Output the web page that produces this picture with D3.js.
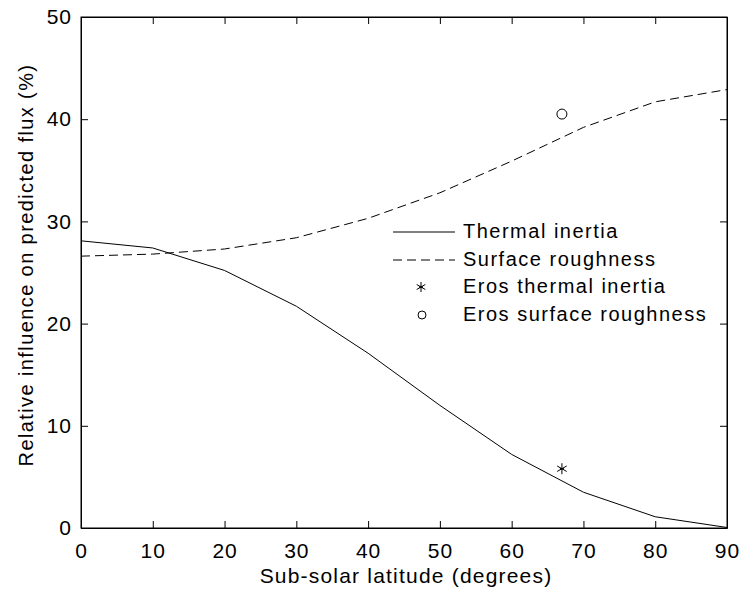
<!DOCTYPE html>
<html>
<head>
<meta charset="utf-8">
<script src="https://cdn.jsdelivr.net/npm/d3@7"></script>
<style>
  body { margin: 0; background: #fff; }
  svg { display: block; font-family: "Liberation Sans", Arial, sans-serif; }
  .domain { stroke: #000; }
</style>
</head>
<body>
<svg width="743" height="592"></svg>
<script>
// Data
const latitude = [0, 10, 20, 30, 40, 50, 60, 70, 80, 90];
const thermalInertia = [28.1, 27.4, 25.2, 21.7, 17.1, 12.0, 7.2, 3.5, 1.1, 0.05];
const surfaceRoughness = [26.6, 26.8, 27.3, 28.4, 30.3, 32.8, 35.9, 39.2, 41.7, 42.9];
const erosThermal = [{ x: 67, y: 5.8 }];
const erosRoughness = [{ x: 67, y: 40.5 }];
const xTicks = [0, 10, 20, 30, 40, 50, 60, 70, 80, 90];
const yTicks = [0, 10, 20, 30, 40, 50];
const legendLabels = ['Thermal inertia', 'Surface roughness', 'Eros thermal inertia', 'Eros surface roughness'];

const svg = d3.select('svg');
const plotLeft = 81, plotRight = 727, plotTop = 17, plotBottom = 528;

const x = d3.scaleLinear().domain([0, 90]).range([plotLeft, plotRight]);
const y = d3.scaleLinear().domain([0, 50]).range([plotBottom, plotTop]);

// Box around the axes
svg.append('rect')
    .attr('x', plotLeft).attr('y', plotTop)
    .attr('width', plotRight - plotLeft).attr('height', plotBottom - plotTop)
    .attr('fill', 'none').attr('stroke', '#000').attr('stroke-width', 1);

// Axes with inward ticks
const xAxis = svg.append('g').attr('transform', `translate(0,${plotBottom})`)
    .call(d3.axisBottom(x).tickValues(xTicks).tickSizeInner(-7).tickSizeOuter(0).tickPadding(11));
const yAxis = svg.append('g').attr('transform', `translate(${plotLeft},0)`)
    .call(d3.axisLeft(y).tickValues(yTicks).tickSizeInner(-7).tickSizeOuter(0).tickPadding(9));
// top and right ticks (no labels)
svg.append('g').attr('transform', `translate(0,${plotTop})`)
    .call(d3.axisTop(x).tickValues(xTicks).tickSizeInner(-7).tickSizeOuter(0).tickFormat(''));
svg.append('g').attr('transform', `translate(${plotRight},0)`)
    .call(d3.axisRight(y).tickValues(yTicks).tickSizeInner(-7).tickSizeOuter(0).tickFormat(''));

svg.selectAll('.tick line').attr('stroke', '#000');
svg.selectAll('.tick text')
    .attr('font-size', 21)
    .attr('letter-spacing', 1)
    .attr('font-family', '"Liberation Sans", Arial, sans-serif')
    .attr('fill', '#000');
xAxis.selectAll('.tick text').attr('dy', '0.9em');

// Axis titles
svg.append('text')
    .attr('x', (plotLeft + plotRight) / 2 + 2).attr('y', 583)
    .attr('text-anchor', 'middle')
    .attr('font-size', 21)
    .attr('letter-spacing', 1.2)
    .text('Sub-solar latitude (degrees)');
svg.append('text')
    .attr('transform', 'translate(33,265) rotate(-90)')
    .attr('text-anchor', 'middle')
    .attr('font-size', 20)
    .attr('letter-spacing', 1.4)
    .text('Relative influence on predicted flux (%)');

// Lines
const line = d3.line().x(d => x(d[0])).y(d => y(d[1]));
svg.append('path')
    .datum(latitude.map((l, i) => [l, thermalInertia[i]]))
    .attr('d', line)
    .attr('fill', 'none').attr('stroke', '#000').attr('stroke-width', 1);
svg.append('path')
    .datum(latitude.map((l, i) => [l, surfaceRoughness[i]]))
    .attr('d', line)
    .attr('fill', 'none').attr('stroke', '#000').attr('stroke-width', 1)
    .attr('stroke-dasharray', '9,5');

// Markers (matlab-style asterisk: vertical + two diagonals + centre dot)
function drawStar(g, cx, cy, r) {
    [0, 60, 120].forEach(a => {
        const rad = a * Math.PI / 180;
        g.append('line')
            .attr('x1', cx - r * Math.sin(rad)).attr('y1', cy - r * Math.cos(rad))
            .attr('x2', cx + r * Math.sin(rad)).attr('y2', cy + r * Math.cos(rad))
            .attr('stroke', '#000').attr('stroke-width', 1);
    });
    g.append('line')
        .attr('x1', cx - 2).attr('y1', cy).attr('x2', cx + 2).attr('y2', cy)
        .attr('stroke', '#000').attr('stroke-width', 1.5);
}
erosThermal.forEach(d => drawStar(svg, x(d.x), y(d.y), 5.5));
svg.selectAll('.eros-circle')
    .data(erosRoughness)
    .enter()
    .append('circle')
    .attr('cx', d => x(d.x)).attr('cy', d => y(d.y))
    .attr('r', 5)
    .attr('fill', 'none').attr('stroke', '#000').attr('stroke-width', 1);

// Legend
const lg = svg.append('g');
const rowY = [232, 260, 287, 315];
lg.append('line').attr('x1', 393).attr('x2', 455).attr('y1', rowY[0]).attr('y2', rowY[0])
    .attr('stroke', '#000');
lg.append('line').attr('x1', 393).attr('x2', 455).attr('y1', rowY[1]).attr('y2', rowY[1])
    .attr('stroke', '#000').attr('stroke-dasharray', '9,5');
drawStar(lg, 421, rowY[2], 5);
lg.append('circle').attr('cx', 422).attr('cy', rowY[3]).attr('r', 4)
    .attr('fill', 'none').attr('stroke', '#000');
lg.selectAll('.legend-label')
    .data(legendLabels)
    .enter()
    .append('text')
    .attr('x', 463)
    .attr('y', (d, i) => rowY[i] + 6)
    .attr('font-size', 20)
    .attr('letter-spacing', 1.5)
    .text(d => d);
</script>
</body>
</html>
